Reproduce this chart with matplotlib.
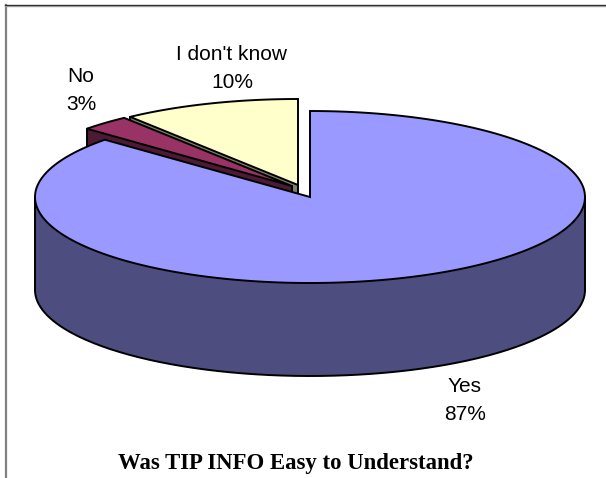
import numpy as np
import matplotlib
matplotlib.use("Agg")
import matplotlib.pyplot as plt
from matplotlib.patches import Polygon

# slice shares, as drawn clockwise from 12 o'clock
categories = ["Yes", "No", "I don't know"]
values = [86.6, 2.95, 10.45]
labels = ["Yes\n87%", "No\n3%", "I don't know\n10%"]
top_colors = ["#9999ff", "#993366", "#ffffcc"]
wall_colors = ["#4d4d80", "#4d1a33", "#808066"]

# pixel geometry of the 3d pie
cx, cy = 310, 197
rx, ry = 275, 86
depth = 93
offsets = [(0, 0), (-18, -11), (-12, -12)]
label_pos = [(465, 401), (81, 90), (232, 68)]
LW = 1.4


def arc(start, end, dx, dy):
    t = np.radians(np.linspace(start, end, 200))
    return cx + dx + rx * np.sin(t), cy + dy - ry * np.cos(t)


def draw_slice(ax, start, end, dx, dy, top, wall, z):
    x, y = arc(start, end, dx, dy)
    ax0, ay0 = cx + dx, cy + dy

    # radial cut faces and the floor of the slice
    for ex, ey in [(x[0], y[0]), (x[-1], y[-1])]:
        quad = [(ax0, ay0), (ex, ey), (ex, ey + depth), (ax0, ay0 + depth)]
        ax.add_patch(Polygon(quad, fc=wall, ec=wall, lw=0.3, zorder=z))
    ax.add_patch(Polygon(np.column_stack((np.r_[ax0, x], np.r_[ay0 + depth, y + depth])),
                         fc=wall, ec=wall, lw=0.3, zorder=z))

    # outer wall, only the part facing us gets the black rim
    a, b = max(start, 90), min(end, 270)
    if a < b:
        wx, wy = arc(a, b, dx, dy)
        ax.fill(np.r_[wx, wx[::-1]], np.r_[wy, wy[::-1] + depth], fc=wall, ec="none", zorder=z)
        ax.plot(wx, wy + depth, color="black", lw=LW, zorder=z + 0.2)
        ax.plot([wx[0], wx[0]], [wy[0], wy[0] + depth], color="black", lw=LW, zorder=z + 0.2)
        ax.plot([wx[-1], wx[-1]], [wy[-1], wy[-1] + depth], color="black", lw=LW, zorder=z + 0.2)
    else:
        # leftmost end of the slice and the apex edge
        ax.plot([x[0], x[0]], [y[0], y[0] + depth], color="black", lw=LW, zorder=z + 0.2)
        ax.plot([ax0, ax0], [ay0, ay0 + depth], color="black", lw=LW, zorder=z + 0.2)

    ax.add_patch(Polygon(np.column_stack((np.r_[ax0, x], np.r_[ay0, y])),
                         fc=top, ec="black", lw=LW, zorder=z + 0.5))


fig = plt.figure(figsize=(6.06, 4.78), dpi=100)
ax = fig.add_axes([0, 0, 1, 1])
ax.set_xlim(0, 606)
ax.set_ylim(478, 0)
ax.axis("off")

# chart frame: grey left side, dark top, runs off the image
ax.plot([6, 6], [478, 5], color="#808080", lw=1.6, zorder=1)
ax.plot([5, 606], [6, 6], color="#b0b0b0", lw=1, zorder=1)
ax.plot([5, 606], [4.8, 4.8], color="#333333", lw=1, zorder=1)

# angles clockwise from top; Yes starts at 0
ends = np.cumsum(values) / sum(values) * 360
starts = np.r_[0, ends[:-1]]

# back slices first so Yes sits over their walls
z_order = {2: 2, 1: 3, 0: 4}
for i in [2, 1, 0]:
    draw_slice(ax, starts[i], ends[i], offsets[i][0], offsets[i][1],
               top_colors[i], wall_colors[i], z_order[i])

for lab, (lx, ly) in zip(labels, label_pos):
    ax.text(lx, ly, lab, ha="center", va="center", family="Liberation Sans",
            fontsize=15, linespacing=1.6, zorder=10)

ax.text(296, 463, "Was TIP INFO Easy to Understand?", ha="center", va="center",
        family="Liberation Serif", fontweight="bold", fontsize=16.4, zorder=10)

fig.savefig("out.png", dpi=100)
